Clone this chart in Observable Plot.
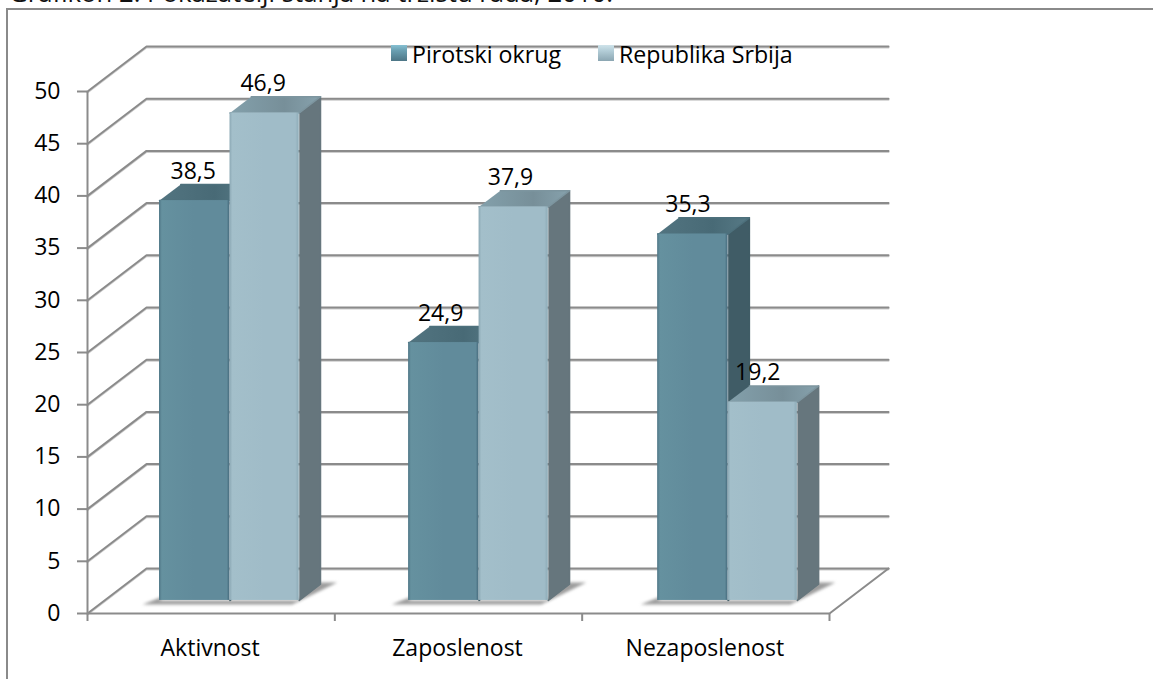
<!DOCTYPE html>
<html lang="sr">
<head>
<meta charset="utf-8">
<title>Grafikon 2. Pokazatelji stanja na tržištu rada, 2010.</title>
<script src="https://cdn.jsdelivr.net/npm/d3@7"></script>
<script src="https://cdn.jsdelivr.net/npm/@observablehq/plot@0.6"></script>
<style>
  html, body { margin: 0; padding: 0; background: #fff; overflow: hidden; width: 1153px; height: 679px; }
  body { position: relative; font-family: "Open Sans", Lato, sans-serif; color: #000; }
  #title { position: absolute; left: 9px; top: -19px; font-size: 25.7px; line-height: 24px; white-space: nowrap; color: #111; }
  #frame { position: absolute; left: 6px; top: 8px; right: -4px; bottom: -4px; border: 2px solid #8a8a8a; border-width: 2px 0 0 2px; box-sizing: content-box; }
  #chart { position: absolute; left: 0; top: 0; }
  #chart svg { display: block; }
  .key { position: absolute; top: 41px; font-size: 23.2px; line-height: 26px; white-space: nowrap; }
  .sw { position: absolute; top: 45px; width: 16px; height: 16px; }
</style>
</head>
<body>
<div id="title">Grafikon 2. Pokazatelji stanja na tržištu rada, 2010.</div>
<div id="frame"></div>
<div id="chart"></div>
<div class="sw" style="left:391px;background:linear-gradient(180deg,#86c0d2 0%,#6a9fb1 35%,#4d7686 100%)"></div>
<div class="key" style="left:412px">Pirotski okrug</div>
<div class="sw" style="left:598px;background:linear-gradient(180deg,#cfe3ea 0%,#b4ced8 35%,#8ba6b2 100%)"></div>
<div class="key" style="left:619px">Republika Srbija</div>
<script>
const categories = ["Aktivnost", "Zaposlenost", "Nezaposlenost"];
const seriesNames = ["Pirotski okrug", "Republika Srbija"];
const pirotskiOkrug = [38.5, 24.9, 35.3];
const republikaSrbija = [46.9, 37.9, 19.2];
const yTicks = [0, 5, 10, 15, 20, 25, 30, 35, 40, 45, 50];
const xTicks = [0, 1, 2, 3];

// Oblique projection: one unit of depth moves a point right (in category units) and up (in value units).
const depthX = 59 / 247.3, depthY = 45 / 10.44;
const P = (u, d, v) => ({x: u + d * depthX, y: v + d * depthY});
const dFront = 0.29, dBack = 0.65;
const barLeft = [0.222, 0.507], barRight = [0.507, 0.787];
const groupStep = 1.007;   // the bar groups sit slightly wider apart than the axis ticks
const bevel = 0.2;         // rounded top edge of each 3-D bar

const comma = v => d3.format(".1f")(v).replace(".", ",");

const bars = [];
[pirotskiOkrug, republikaSrbija].forEach((vals, s) => vals.forEach((v, i) => {
  const a = i * groupStep + barLeft[s], b = i * groupStep + barRight[s];
  bars.push({s, i, v, h: v - bevel, a, b, id: `${s}-${i}`});
}));

const poly = (list, fn) => list.flatMap(d => fn(d).map(p => ({...p, id: d.id})));
const sideFace = d => [P(d.b, dFront, 0), P(d.b, dBack, 0), P(d.b, dBack, d.h), P(d.b, dFront, d.h)];
const topFace = d => [P(d.a, dFront, d.h), P(d.b, dFront, d.h), P(d.b, dBack, d.h), P(d.a, dBack, d.h)];
const shadow = i => {
  const g = i * groupStep;
  return [P(g + 0.175, 0.2, 0), P(g + 0.78, 0.2, 0), P(g + 0.845, 0.69, 0), P(g + 0.775, 0.69, 0), P(g + 0.775, 0.29, 0), P(g + 0.22, 0.29, 0), P(g + 0.225, 0.42, 0)]
    .map(p => ({...p, id: i}));
};

// Wall + floor grid: from the front plane into the back wall, then along it.
const grid = yTicks.flatMap(t => [P(0, 0, t), P(0, 1, t), P(3, 1, t)].map(p => ({...p, id: t})));
const floorRight = [P(3, 0, 0), P(3, 1, 0)];

const polyMark = (list, fn, fill, stroke = "none") =>
  Plot.line(poly(list, fn), {x: "x", y: "y", z: "id", fill, stroke, strokeWidth: 1.5, strokeLinejoin: "round"});
const seriesMarks = s => {
  const list = bars.filter(d => d.s === s);
  return [
    polyMark(list, sideFace, s === 0 ? "#405c66" : "#66767d", s === 0 ? "#405c66" : "#66767d"),
    polyMark(list, topFace, s === 0 ? "url(#topDark)" : "url(#topLight)", s === 0 ? "#4d707c" : "#7d959f"),
    Plot.rect(list, {
      x1: d => d.a + dFront * depthX, x2: d => d.b + dFront * depthX,
      y1: dFront * depthY, y2: d => d.h + dFront * depthY,
      fill: s === 0 ? "url(#frontDark)" : "url(#frontLight)"
    })
  ];
};

const labelRows = bars.map(d => ({x: d.i + (barLeft[d.s] + barRight[d.s]) / 2 + dFront * depthX, y: d.h + dFront * depthY, t: comma(d.v)}));

const plot = Plot.plot({
  width: 1153, height: 679,
  marginTop: 0, marginBottom: 66, marginLeft: 87, marginRight: 0,
  style: {background: "transparent", overflow: "visible", fontFamily: "'Open Sans', Lato, sans-serif"},
  x: {domain: [0, 3], range: [87, 829]},
  y: {domain: [0, 50], range: [613, 91]},
  marks: [
    Plot.line(grid, {x: "x", y: "y", z: "id", stroke: "#cdcdcd", strokeWidth: 2, dy: 1}),
    Plot.line(grid, {x: "x", y: "y", z: "id", stroke: "#8b8b8b", strokeWidth: 2}),
    Plot.line(floorRight, {x: "x", y: "y", stroke: "#8b8b8b", strokeWidth: 2}),
    Plot.ruleX([0], {y1: 0, y2: 50, stroke: "#8b8b8b", strokeWidth: 2}),
    Plot.ruleY([0], {x1: 0, x2: 3, stroke: "#8b8b8b", strokeWidth: 2}),
    Plot.axisY({ticks: yTicks, tickSize: 10, tickPadding: 17, fontSize: 23, stroke: "#8b8b8b", strokeWidth: 2, color: "#000", label: null, tickFormat: d => d}),
    Plot.axisX({ticks: xTicks, tickSize: 8, stroke: "#8b8b8b", strokeWidth: 2, label: null, tickFormat: () => ""}),
    Plot.line(categories.flatMap((c, i) => shadow(i)), {x: "x", y: "y", z: "id", fill: "#9c9c9c", stroke: "none", imageFilter: "blur(1.5px)"}),
    ...seriesMarks(0),
    ...seriesMarks(1),
    Plot.text(categories, {x: (d, i) => i + 0.5, y: 0, dy: 35, dx: -1, text: d => d, fontSize: 23, fill: "#000"}),
    Plot.text(labelRows, {x: "x", y: "y", text: "t", dx: -1.5, dy: -29, fontSize: 23, fill: "#000"})
  ]
});

const defs = d3.select(plot).append("defs");
const grad = (id, stops, x2 = 1, y2 = 0) => {
  const g = defs.append("linearGradient").attr("id", id).attr("x1", 0).attr("y1", 0).attr("x2", x2).attr("y2", y2);
  stops.forEach(([o, c]) => g.append("stop").attr("offset", o).attr("stop-color", c));
};
grad("frontDark", [[0, "#4f7686"], [0.04, "#65919f"], [0.5, "#618b9b"], [0.96, "#618b9b"], [1, "#44687a"]]);
grad("frontLight", [[0, "#8ba8b4"], [0.04, "#a3bfca"], [0.5, "#a0bcc8"], [0.95, "#a0bcc8"], [1, "#8dabb7"]]);
grad("topDark", [[0, "#527480"], [0.6, "#486a76"], [1, "#577a86"]], 1, 0);
grad("topLight", [[0, "#83a0ab"], [0.6, "#778f99"], [1, "#87a2ad"]], 1, 0);

document.getElementById("chart").append(plot);
</script>
</body>
</html>
